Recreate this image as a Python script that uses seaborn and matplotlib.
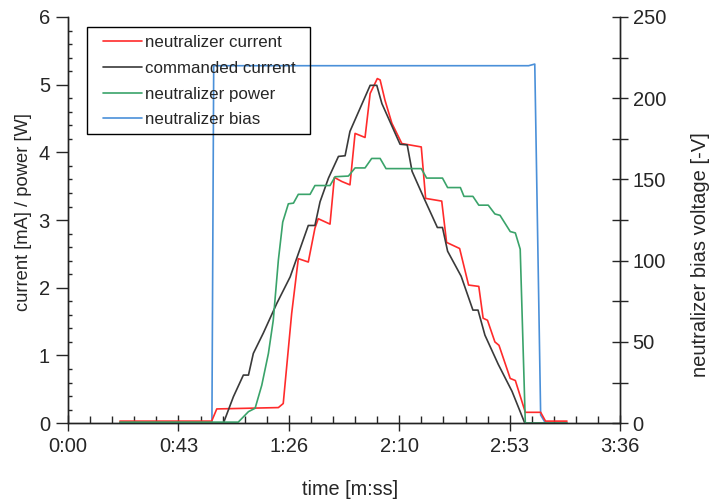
import numpy as np
import pandas as pd
import matplotlib
matplotlib.use("Agg")
import matplotlib.pyplot as plt
import seaborn as sns
from matplotlib.patches import Rectangle
from matplotlib.ticker import FuncFormatter, MultipleLocator

# time in seconds
cur_t = [20.3, 56.2, 58.2, 82.3, 84.2, 87.5, 90.1, 94.0, 96.6, 97.9, 102.5, 104.2, 107.1,
         110.3, 112.3, 116.2, 118.2, 121.0, 122.1, 124.0, 126.7, 130.6, 138.2, 139.9,
         146.2, 148.1, 153.2, 156.7, 160.7, 162.4, 164.1, 167.0, 168.6, 173.0, 175.0,
         178.9, 184.9, 186.8, 195.2]
cur_v = [0.03, 0.03, 0.21, 0.23, 0.29, 1.62, 2.43, 2.38, 2.88, 3.02, 2.94, 3.63, 3.57,
         3.52, 4.28, 4.22, 4.87, 5.09, 5.07, 4.77, 4.43, 4.13, 4.08, 3.32,
         3.28, 2.67, 2.58, 2.04, 2.02, 1.55, 1.52, 1.20, 1.15, 0.66, 0.63,
         0.16, 0.16, 0.03, 0.03]

cmd_t = [20.3, 60.8, 64.7, 68.6, 70.6, 72.5, 76.4, 81.7, 86.9, 94.0, 96.6, 98.6, 101.9,
         105.8, 108.4, 110.3, 118.2, 120.8, 122.8, 129.9, 132.7, 134.6, 139.3, 144.5,
         146.5, 148.5, 153.8, 158.4, 160.4, 163.1, 168.3, 173.7, 178.7, 195.2]
cmd_v = [0.0, 0.0, 0.39, 0.71, 0.71, 1.03, 1.33, 1.77, 2.16, 2.92, 2.92, 3.27, 3.62,
         3.94, 3.95, 4.31, 4.99, 4.99, 4.72, 4.12, 4.11, 3.72, 3.32, 2.89,
         2.89, 2.54, 2.17, 1.67, 1.67, 1.30, 0.87, 0.47, 0.0, 0.0]

pow_t = [20.3, 66.6, 70.6, 73.2, 75.8, 78.4, 80.3, 82.3, 84.0, 86.2, 88.2, 90.1, 94.7,
         96.6, 102.5, 104.5, 109.7, 112.3, 116.2, 118.8, 122.1, 124.4, 138.2, 140.3,
         146.5, 148.5, 153.5, 154.9, 158.4, 160.7, 164.4, 167.0, 169.0, 173.0, 175.0,
         176.9, 178.9, 195.2]
pow_v = [0.015, 0.015, 0.17, 0.22, 0.56, 1.03, 1.52, 2.41, 2.97, 3.24, 3.25, 3.38, 3.38,
         3.51, 3.51, 3.64, 3.65, 3.77, 3.77, 3.91, 3.91, 3.76, 3.76, 3.62,
         3.62, 3.48, 3.48, 3.35, 3.35, 3.22, 3.22, 3.09, 3.07, 2.83, 2.81,
         2.57, 0.0, 0.0]

bias_t = [20.3, 56.3, 57.0, 180.2, 182.6, 184.9, 186.8, 195.2]
bias_v = [0, 0, 220, 220, 221, 5, 0, 0]

x_ticks = [0, 43.2, 86.4, 129.6, 172.8, 216]

sns.set_style("ticks")
plt.rcParams['font.family'] = ['Liberation Sans', 'DejaVu Sans']

fig = plt.figure(figsize=(7.12, 4.99), dpi=100)
ax = fig.add_axes([0.0955, 0.152, 0.7755, 0.814])
ax2 = ax.twinx()

lw = 1.2
sns.lineplot(x=cur_t, y=cur_v, ax=ax, color='#ff2b2b', lw=lw, estimator=None, sort=False,
             label='neutralizer current')
sns.lineplot(x=cmd_t, y=cmd_v, ax=ax, color='#3a3a3a', lw=lw, estimator=None, sort=False,
             label='commanded current')
sns.lineplot(x=pow_t, y=pow_v, ax=ax, color='#3aa36a', lw=lw, estimator=None, sort=False,
             label='neutralizer power')
sns.lineplot(x=bias_t, y=bias_v, ax=ax2, color='#4a90d9', lw=lw, estimator=None, sort=False,
             label='neutralizer bias')

ax.set_xlim(0, 216)
ax.set_ylim(0, 6)
ax2.set_ylim(0, 250)

ax.set_xticks(x_ticks)
ax.xaxis.set_major_formatter(FuncFormatter(lambda v, p: f"{int(round(v)) // 60}:{int(round(v)) % 60:02d}"))
ax.xaxis.set_minor_locator(MultipleLocator(8.64))
ax.yaxis.set_major_locator(MultipleLocator(1))
ax.yaxis.set_minor_locator(MultipleLocator(0.2))
ax2.yaxis.set_major_locator(MultipleLocator(50))
ax2.yaxis.set_minor_locator(MultipleLocator(25))

tick_fs = 14.5
ax.tick_params(axis='x', which='major', direction='inout', length=12, width=1, labelsize=tick_fs, pad=4)
ax.tick_params(axis='x', which='minor', direction='in', length=5, width=1)
ax.tick_params(axis='y', which='major', direction='out', length=9, width=1, labelsize=tick_fs, pad=4)
ax.tick_params(axis='y', which='minor', direction='in', length=3, width=1)
ax2.tick_params(axis='y', which='major', direction='inout', length=12, width=1, labelsize=tick_fs, pad=3)
ax2.tick_params(axis='y', which='minor', direction='inout', length=12, width=1)

for a in (ax, ax2):
    a.spines['top'].set_visible(False)
    for s in ('left', 'right', 'bottom'):
        a.spines[s].set_color('#222222')
        a.spines[s].set_linewidth(1)

ax.set_xlabel('time [m:ss]', fontsize=14.3)
ax.xaxis.set_label_coords(0.511, -0.14)
ax.set_ylabel('current [mA] / power [W]', fontsize=13.2)
ax.yaxis.set_label_coords(-0.065, 0.52)
ax2.set_ylabel('neutralizer bias voltage [-V]', fontsize=14.5)
ax2.yaxis.set_label_coords(1.129, 0.416)

# combined legend, frame drawn separately so the padding matches
h1, l1 = ax.get_legend_handles_labels()
h2, l2 = ax2.get_legend_handles_labels()
ax2.get_legend().remove()
leg = ax.legend(h1 + h2, l1 + l2, loc='upper left', bbox_to_anchor=(0.0629, 0.956),
                fontsize=12.2, frameon=False, handlelength=2.3, handletextpad=0.2,
                borderpad=0, labelspacing=0.64, borderaxespad=0)
ax.add_patch(Rectangle((0.0344, 0.7118), 0.404, 0.2636, transform=ax.transAxes,
                       fill=False, edgecolor='black', lw=1, zorder=5, clip_on=False))
ax.set_zorder(ax2.get_zorder() + 1)
ax.patch.set_visible(False)

fig.savefig('out.png', dpi=100)
